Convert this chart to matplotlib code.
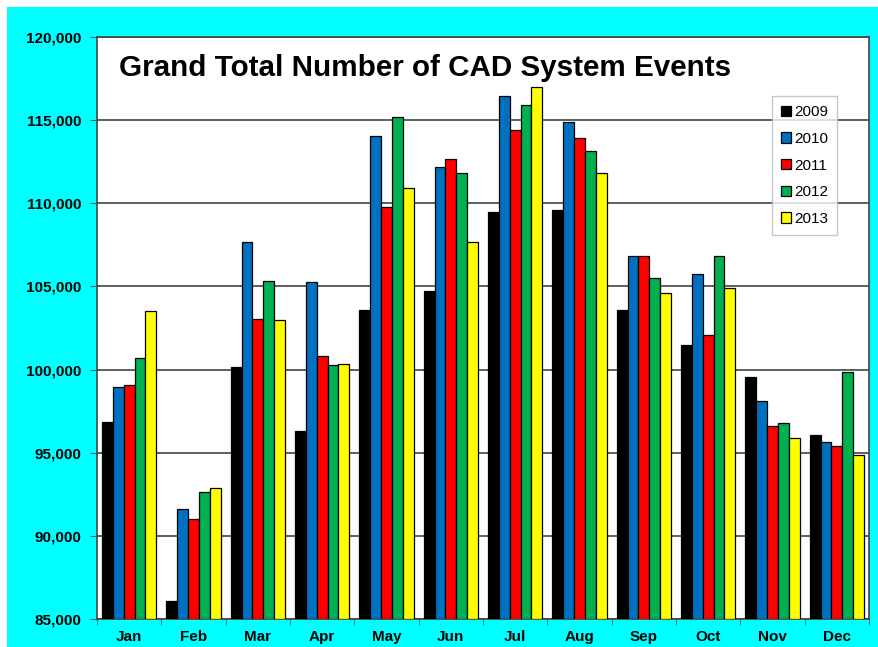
import numpy as np
import matplotlib.pyplot as plt
from matplotlib.patches import Rectangle
from matplotlib.ticker import FuncFormatter, FixedLocator

months = ["Jan", "Feb", "Mar", "Apr", "May", "Jun",
          "Jul", "Aug", "Sep", "Oct", "Nov", "Dec"]
years = ["2009", "2010", "2011", "2012", "2013"]

v2009 = [96860, 86080, 100140, 96300, 103560, 104720, 109500, 109600, 103580, 101500, 99560, 96080]
v2010 = [98950, 91620, 107680, 105260, 114060, 112160, 116440, 114860, 106820, 105740, 98080, 95620]
v2011 = [99080, 91020, 103060, 100800, 109780, 112640, 114400, 113940, 106820, 102100, 96600, 95380]
v2012 = [100680, 92660, 105320, 100280, 115200, 111840, 115920, 113140, 105520, 106820, 96760, 99840]
v2013 = [103520, 92900, 102980, 100360, 110920, 107660, 117020, 111800, 104580, 104900, 95900, 94880]

series = [v2009, v2010, v2011, v2012, v2013]
colors = ["#000000", "#0070C0", "#FF0000", "#00B050", "#FFFF00"]

plt.rcParams['font.family'] = ['Liberation Sans', 'DejaVu Sans']

fig = plt.figure(figsize=(8.79, 6.47), dpi=100)
# cyan background with thin white border
fig.patches.append(Rectangle((7 / 879, 0), 1 - 7 / 879, 1 - 7 / 647,
                             transform=fig.transFigure, facecolor="#00FFFF",
                             edgecolor="none", zorder=-10))
ax = fig.add_axes([97 / 879, 28 / 647, 772 / 879, 582 / 647])
ax.set_facecolor("white")

x = np.arange(len(months))
w = 0.168
for i, (vals, c, yr) in enumerate(zip(series, colors, years)):
    ax.bar(x + (i - 2) * w, np.array(vals) - 85000, width=w, bottom=85000,
           color=c, edgecolor="black", linewidth=0.9, label=yr, zorder=3)

ax.set_xlim(-0.5, 11.5)
ax.set_ylim(85000, 120000)
ax.set_yticks(np.arange(85000, 120001, 5000))
ax.yaxis.set_major_formatter(FuncFormatter(lambda v, p: f"{int(v):,}"))
ax.yaxis.grid(True, color="#333333", linewidth=1.1, zorder=1)

ax.set_xticks(x)
ax.set_xticklabels(months)
ax.xaxis.set_minor_locator(FixedLocator(np.arange(-0.5, 12, 1)))
ax.tick_params(axis="x", which="major", length=0, pad=8)
ax.tick_params(axis="x", which="minor", length=4, color="#555555", direction="out")
ax.tick_params(axis="y", length=5, color="#555555", direction="out", pad=6)
for lab in ax.get_xticklabels() + ax.get_yticklabels():
    lab.set_fontsize(11)
    lab.set_fontweight("bold")

for s in ax.spines.values():
    s.set_color("#444444")
    s.set_linewidth(1.2)

ax.text(0.029, 0.947, "Grand Total Number of CAD System Events",
        transform=ax.transAxes, fontsize=21.3, fontweight="bold",
        va="center", ha="left", zorder=5)

leg = ax.legend(loc="upper right", bbox_to_anchor=(0.9585, 0.8986),
                fontsize=11, frameon=True, fancybox=False,
                handlelength=0.65, handleheight=0.65, handletextpad=0.2,
                labelspacing=0.83, borderpad=0.6, borderaxespad=0)
leg.get_frame().set_edgecolor("#BBBBBB")
leg.get_frame().set_linewidth(1.0)

plt.savefig("out.png", dpi=100)
